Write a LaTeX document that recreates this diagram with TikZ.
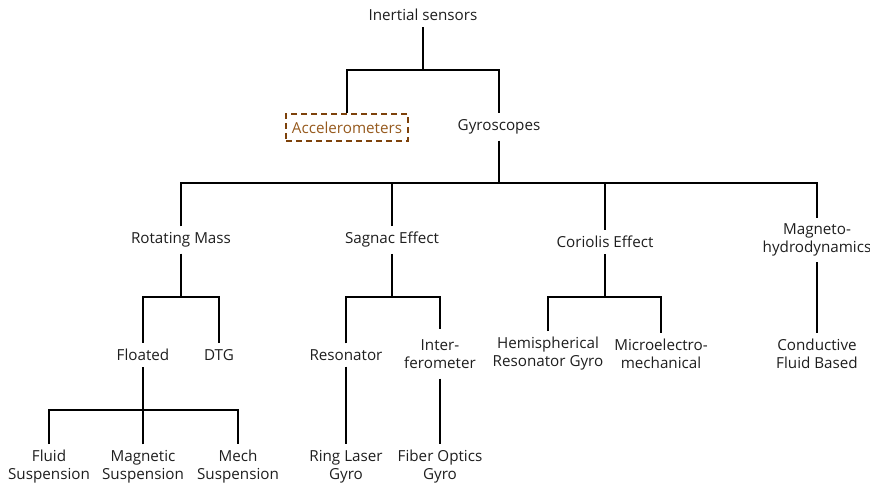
\documentclass[tikz,border=0pt]{standalone}
\usepackage{fontspec}
\setmainfont{Open Sans}
\definecolor{accbrown}{RGB}{125,65,10}
\definecolor{acctext}{RGB}{150,90,30}
\definecolor{txt}{RGB}{30,30,30}
\begin{document}
\begin{tikzpicture}[x=1pt,y=-1pt,
  lbl/.style={font=\fontsize{15.2}{18}\selectfont, align=center, inner xsep=2pt, inner ysep=6pt, text=txt},
  dashbox/.style={draw=accbrown, dashed, dash pattern=on 6pt off 4pt, line width=2pt, text=acctext,
     font=\fontsize{15.2}{18}\selectfont, minimum width=122pt, minimum height=27pt, inner sep=0pt},
  edge/.style={line width=2pt, black}]
\useasboundingbox (0,0) rectangle (870,484);

\node[lbl] (root) at (423,15) {Inertial sensors};
\node[dashbox] (acc) at (347,127.5) {Accelerometers};
\node[lbl] (gyro) at (499,127) {Gyroscopes};

\node[lbl] (rot) at (181,240) {Rotating Mass};
\node[lbl] (sag) at (392,240) {Sagnac Effect};
\node[lbl] (cor) at (605,242) {Coriolis Effect};
\node[lbl] (mhd) at (817,240) {Magneto-\\hydrodynamics};

\node[lbl] (flo) at (143,355) {Floated};
\node[lbl] (dtg) at (219,355) {DTG};
\node[lbl] (res) at (346,355) {Resonator};
\node[lbl, inner ysep=10pt] (int) at (440,354) {Inter-\\ferometer};
\node[lbl] (hem) at (548,354) {Hemispherical\\Resonator Gyro};
\node[lbl] (mic) at (661,354) {Microelectro-\\mechanical};
\node[lbl] (cfb) at (817,354) {Conductive\\Fluid Based};

\node[lbl] (fluid) at (49,467) {Fluid\\Suspension};
\node[lbl] (magn) at (143,467) {Magnetic\\Suspension};
\node[lbl] (mech) at (238,467) {Mech\\Suspension};
\node[lbl] (rlg) at (346,467) {Ring Laser\\Gyro};
\node[lbl] (fog) at (440,467) {Fiber Optics\\Gyro};

% root
\draw[edge] (root.south) -- (root.south |- {0,70});
\draw[edge] (acc.north) |- (gyro.north |- {0,70}) -- (gyro.north);
% gyroscopes
\draw[edge] (gyro.south) -- (gyro.south |- {0,183});
\draw[edge] (rot.north) |- (mhd.north |- {0,183}) -- (mhd.north);
\draw[edge] (sag.north) -- (sag.north |- {0,183});
\draw[edge] (cor.north) -- (cor.north |- {0,183});
% rotating mass
\draw[edge] (rot.south) -- (rot.south |- {0,297});
\draw[edge] (flo.north) |- (dtg.north |- {0,297}) -- (dtg.north);
% sagnac
\draw[edge] (sag.south) -- (sag.south |- {0,297});
\draw[edge] (res.north) |- (int.north |- {0,297}) -- (int.north);
% coriolis
\draw[edge] (cor.south) -- (cor.south |- {0,297});
\draw[edge] (hem.north) |- (mic.north |- {0,297}) -- (mic.north);
% mhd
\draw[edge] (mhd.south) -- (cfb.north);
% floated
\draw[edge] (flo.south) -- (flo.south |- {0,410});
\draw[edge] (fluid.north) |- (mech.north |- {0,410}) -- (mech.north);
\draw[edge] (magn.north) -- (magn.north |- {0,410});
% resonator, interferometer
\draw[edge] (res.south) -- (rlg.north);
\draw[edge] (int.south) -- (fog.north);
\end{tikzpicture}
\end{document}
